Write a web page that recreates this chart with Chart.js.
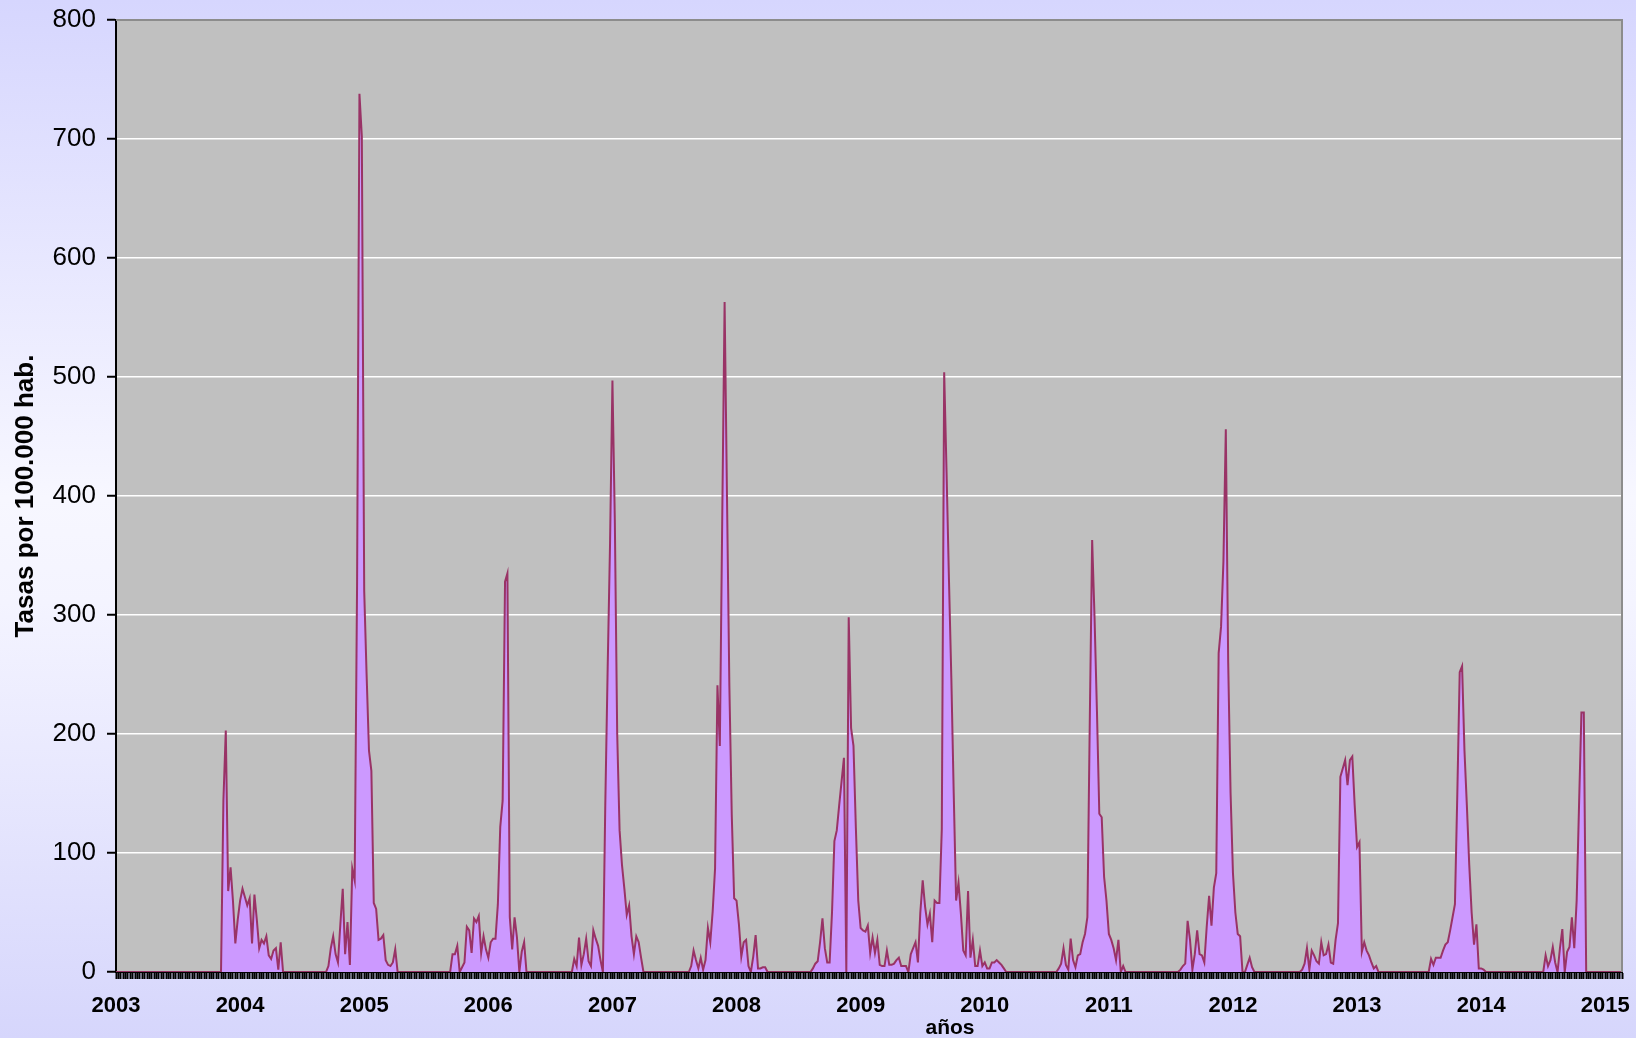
<!DOCTYPE html>
<html lang="es">
<head>
<meta charset="utf-8">
<title>Tasas por 100.000 hab.</title>
<script src="https://cdn.jsdelivr.net/npm/chart.js@4/dist/chart.umd.min.js"></script>
<style>
    html, body { margin: 0; padding: 0; overflow: hidden; }
    body {
        width: 1636px;
        height: 1038px;
        background: linear-gradient(to bottom, #d6d6fe 0%, #f7f7ff 48%, #f4f4ff 58%, #d6d6fc 100%);
    }
    canvas { display: block; }
</style>
</head>
<body>
<canvas id="rateChart" width="1636" height="1038"></canvas>
<script>
const years = ['2003', '2004', '2005', '2006', '2007', '2008', '2009', '2010', '2011', '2012', '2013', '2014', '2015'];
const weeksPerYear = 52;
const totalWeeks = 632;
const yTicks = [0, 100, 200, 300, 400, 500, 600, 700, 800];

// week index (counted from the first week of 2003) where each season starts
const seasonStart = [44, 88, 140, 191, 240, 291, 332, 394, 445, 496, 550, 598];

// weekly rates per season
const season0304 = [0, 144, 203, 68, 88, 60, 24, 44, 60, 70, 63, 56, 62, 24, 65, 44, 20, 27, 24, 30, 14, 11, 18, 20, 2, 25, 0];
const season0405 = [0, 5, 20, 30, 15, 8, 40, 70, 15, 42, 6, 87, 77, 324, 738, 702, 320, 250, 186, 169, 58, 53, 27, 28, 31, 10, 6, 5, 8, 19, 0];
const season0506 = [0, 15, 15, 22, 0, 4, 8, 38, 35, 16, 45, 42, 47, 16, 30, 19, 12, 25, 28, 28, 57, 122, 144, 328, 335, 46, 19, 46, 29, 0, 17, 25, 0];
const season0607 = [0, 11, 5, 29, 6, 15, 28, 9, 5, 35, 28, 22, 10, 0, 140, 255, 360, 497, 380, 200, 119, 90, 70, 48, 56, 30, 15, 30, 25, 12, 0];
const season0708 = [0, 5, 18, 10, 3, 12, 2, 10, 37, 25, 51, 87, 241, 190, 380, 563, 400, 240, 132, 62, 60, 40, 13, 25, 27, 5, 0, 13, 31, 3, 3, 4, 4, 0];
const season0809 = [0, 3, 7, 9, 25, 45, 20, 8, 8, 50, 110, 119, 140, 160, 180, 0, 298, 205, 190, 121, 60, 37, 35, 34, 39, 16, 29, 16, 27, 6, 5, 5, 18, 6, 6, 7, 10, 12, 5, 5, 5];
const season0910 = [0, 15, 20, 25, 8, 50, 77, 55, 40, 49, 25, 60, 58, 58, 120, 504, 420, 330, 247, 150, 60, 75, 49, 18, 14, 68, 12, 27, 5, 5, 18, 5, 8, 3, 3, 8, 8, 10, 8, 6, 3, 0];
const season1011 = [0, 3, 7, 20, 6, 2, 28, 10, 4, 14, 15, 25, 32, 46, 210, 363, 298, 220, 133, 130, 80, 60, 32, 27, 20, 10, 27, 0, 5, 0];
const season1112 = [0, 2, 5, 7, 43, 27, 2, 15, 35, 15, 14, 8, 38, 64, 39, 71, 83, 268, 290, 345, 456, 260, 150, 83, 50, 32, 30, 0, 0, 6, 12, 4, 0];
const season1213 = [0, 2, 7, 20, 2, 18, 14, 9, 7, 25, 14, 15, 23, 8, 7, 27, 41, 164, 171, 178, 157, 178, 181, 140, 105, 109, 17, 25, 18, 14, 8, 3, 5, 0];
const season1314 = [0, 11, 6, 12, 12, 12, 18, 23, 25, 35, 46, 57, 150, 252, 257, 186, 140, 90, 50, 23, 40, 3, 3, 2, 0];
const season1415 = [0, 14, 5, 10, 21, 8, 0, 20, 36, 0, 17, 21, 46, 20, 60, 140, 218, 218, 0];

const seasons = [season0304, season0405, season0506, season0607, season0708, season0809,
    season0910, season1011, season1112, season1213, season1314, season1415];

function buildRates() {
    // weeks outside the surveillance seasons stay at 0
    const rates = new Array(totalWeeks).fill(0);
    seasons.forEach((season, k) => {
        season.forEach((v, i) => { rates[seasonStart[k] + i] = v; });
    });
    return rates;
}

function buildLabels() {
    const labels = [];
    for (let i = 0; i < totalWeeks; i++) {
        labels.push(i % weeksPerYear === 0 ? years[i / weeksPerYear] : '');
    }
    return labels;
}

const plotFrame = {
    id: 'plotFrame',
    beforeDraw(chart) {
        const { ctx, chartArea: a } = chart;
        ctx.save();
        ctx.fillStyle = '#c0c0c0';
        ctx.fillRect(a.left, a.top, a.right - a.left, a.bottom - a.top);
        ctx.restore();
    },
    afterDraw(chart) {
        const { ctx, chartArea: a } = chart;
        ctx.save();
        ctx.strokeStyle = '#8c8c8c';
        ctx.lineWidth = 2;
        ctx.beginPath();
        ctx.moveTo(a.left, a.top);
        ctx.lineTo(a.right, a.top);
        ctx.lineTo(a.right, a.bottom);
        ctx.stroke();

        // the x axis title sits right of centre in the original
        ctx.fillStyle = '#000';
        ctx.font = 'bold 21px "Liberation Sans", Arial, sans-serif';
        ctx.textAlign = 'center';
        ctx.textBaseline = 'alphabetic';
        ctx.fillText('años', 950, 1034);
        ctx.restore();
    }
};

const ctx = document.getElementById('rateChart').getContext('2d');
new Chart(ctx, {
    type: 'line',
    data: {
        labels: buildLabels(),
        datasets: [{
            label: 'Tasas por 100.000 hab.',
            data: buildRates(),
            borderColor: '#993366',
            backgroundColor: '#cc99ff',
            borderWidth: 2,
            fill: 'origin',
            tension: 0,
            pointRadius: 0,
            pointHoverRadius: 0
        }]
    },
    options: {
        responsive: false,
        animation: false,
        events: [],
        layout: { padding: { top: 20, right: 12, left: 0, bottom: 0 } },
        plugins: {
            legend: { display: false },
            tooltip: { enabled: false }
        },
        scales: {
            x: {
                z: 1,
                offset: false,
                afterFit: (scale) => { scale.height = 66; },
                border: { color: '#000', width: 2 },
                grid: {
                    display: true,
                    drawOnChartArea: false,
                    drawTicks: true,
                    tickLength: 7,
                    tickColor: '#000',
                    tickWidth: 2
                },
                ticks: {
                    autoSkip: false,
                    maxRotation: 0,
                    minRotation: 0,
                    padding: 14,
                    color: '#000',
                    font: { family: '"Liberation Sans", Arial, sans-serif', size: 22, weight: 'bold' }
                }
            },
            y: {
                min: yTicks[0],
                max: yTicks[yTicks.length - 1],
                afterFit: (scale) => {
                    scale.width = 116;
                    // let the layout padding alone decide where the plot starts
                    scale.paddingTop = 0;
                    scale.paddingBottom = 0;
                },
                afterBuildTicks: (scale) => { scale.ticks = yTicks.map(v => ({ value: v })); },
                border: { color: '#000', width: 2 },
                grid: {
                    color: '#ffffff',
                    lineWidth: 1.5,
                    tickLength: 9,
                    tickColor: '#000',
                    tickWidth: 2
                },
                ticks: {
                    padding: 11,
                    color: '#000',
                    font: { family: '"Liberation Sans", Arial, sans-serif', size: 26 }
                },
                title: {
                    display: true,
                    text: 'Tasas por 100.000 hab.',
                    color: '#000',
                    padding: { top: 10, bottom: 0 },
                    font: { family: '"Liberation Sans", Arial, sans-serif', size: 26, weight: 'bold' }
                }
            }
        }
    },
    plugins: [plotFrame]
});
</script>
</body>
</html>
